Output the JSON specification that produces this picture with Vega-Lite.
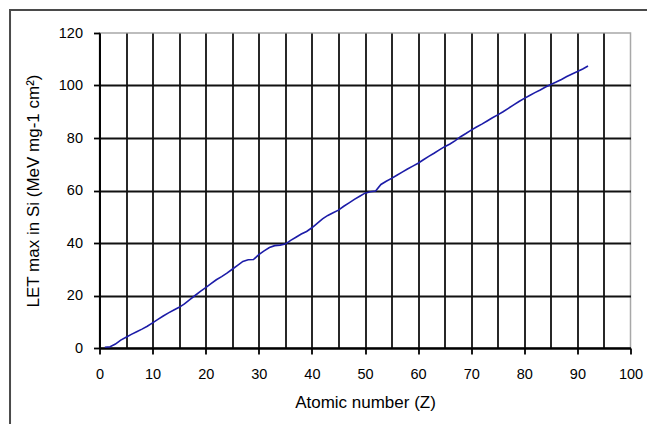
{
  "$schema": "https://vega.github.io/schema/vega-lite/v6.json",
  "autosize": "none",
  "width": 531,
  "height": 315,
  "padding": {"left": 99.5, "top": 33, "right": 16.5, "bottom": 76},
  "background": "#ffffff",
  "config": {
    "font": "Liberation Sans",
    "view": {"stroke": "#a8a8a8", "strokeWidth": 1.5},
    "axis": {
      "grid": true,
      "labelFont": "Liberation Sans",
      "titleFont": "Liberation Sans",
      "labelColor": "#000000",
      "titleColor": "#000000",
      "titleFontWeight": "normal",
      "domainColor": "#000000",
      "domainWidth": 1.8,
      "tickColor": "#000000",
      "tickWidth": 1.8,
      "gridColor": "#111111",
      "gridWidth": 1.8,
      "gridOpacity": 1
    }
  },
  "data": {
    "values": [
      {"z": 1, "let": 0.3}, {"z": 2, "let": 0.5}, {"z": 3, "let": 1.5}, {"z": 4, "let": 3.0},
      {"z": 5, "let": 4.1}, {"z": 6, "let": 5.2}, {"z": 7, "let": 6.2}, {"z": 8, "let": 7.2},
      {"z": 9, "let": 8.3}, {"z": 10, "let": 9.6}, {"z": 11, "let": 10.9}, {"z": 12, "let": 12.2},
      {"z": 13, "let": 13.4}, {"z": 14, "let": 14.5}, {"z": 15, "let": 15.5}, {"z": 16, "let": 16.8},
      {"z": 17, "let": 18.4}, {"z": 18, "let": 20.0}, {"z": 19, "let": 21.6}, {"z": 20, "let": 23.0},
      {"z": 21, "let": 24.5}, {"z": 22, "let": 26.0}, {"z": 23, "let": 27.2}, {"z": 24, "let": 28.5},
      {"z": 25, "let": 30.0}, {"z": 26, "let": 31.5}, {"z": 27, "let": 33.0}, {"z": 28, "let": 33.6},
      {"z": 29, "let": 33.7}, {"z": 30, "let": 35.6}, {"z": 31, "let": 37.0}, {"z": 32, "let": 38.3},
      {"z": 33, "let": 39.0}, {"z": 34, "let": 39.2}, {"z": 35, "let": 39.6}, {"z": 36, "let": 41.0},
      {"z": 37, "let": 42.2}, {"z": 38, "let": 43.4}, {"z": 39, "let": 44.4}, {"z": 40, "let": 45.8},
      {"z": 41, "let": 47.5}, {"z": 42, "let": 49.2}, {"z": 43, "let": 50.5}, {"z": 44, "let": 51.5},
      {"z": 45, "let": 52.5}, {"z": 46, "let": 54.0}, {"z": 47, "let": 55.3}, {"z": 48, "let": 56.6},
      {"z": 49, "let": 57.8}, {"z": 50, "let": 59.0}, {"z": 51, "let": 59.5}, {"z": 52, "let": 59.8},
      {"z": 53, "let": 62.3}, {"z": 54, "let": 63.5}, {"z": 55, "let": 64.6}, {"z": 56, "let": 65.8},
      {"z": 57, "let": 67.0}, {"z": 58, "let": 68.2}, {"z": 59, "let": 69.3}, {"z": 60, "let": 70.4},
      {"z": 61, "let": 71.7}, {"z": 62, "let": 73.0}, {"z": 63, "let": 74.2}, {"z": 64, "let": 75.5},
      {"z": 65, "let": 76.7}, {"z": 66, "let": 77.7}, {"z": 67, "let": 79.0}, {"z": 68, "let": 80.5},
      {"z": 69, "let": 81.7}, {"z": 70, "let": 83.0}, {"z": 71, "let": 84.2}, {"z": 72, "let": 85.3},
      {"z": 73, "let": 86.5}, {"z": 74, "let": 87.7}, {"z": 75, "let": 88.8}, {"z": 76, "let": 90.0},
      {"z": 77, "let": 91.3}, {"z": 78, "let": 92.6}, {"z": 79, "let": 93.9}, {"z": 80, "let": 95.1},
      {"z": 81, "let": 96.2}, {"z": 82, "let": 97.3}, {"z": 83, "let": 98.3}, {"z": 84, "let": 99.4},
      {"z": 85, "let": 100.4}, {"z": 86, "let": 101.3}, {"z": 87, "let": 102.3}, {"z": 88, "let": 103.4},
      {"z": 89, "let": 104.4}, {"z": 90, "let": 105.3}, {"z": 91, "let": 106.3}, {"z": 92, "let": 107.4}
    ]
  },
  "encoding": {
    "x": {
      "field": "z",
      "type": "quantitative",
      "scale": {"domain": [0, 100], "nice": false, "zero": false},
      "axis": {
        "title": "Atomic number (Z)",
        "grid": true,
        "values": [0, 5, 10, 15, 20, 25, 30, 35, 40, 45, 50, 55, 60, 65, 70, 75, 80, 85, 90, 95, 100],
        "labelExpr": "datum.value % 10 === 0 ? datum.label : ''",
        "labelFontSize": 14.5,
        "labelPadding": 13,
        "labelFlush": false,
        "labelOverlap": false,
        "tickSize": 6,
        "tickColor": {"condition": {"test": "datum.value % 10 === 0", "value": "#000000"}, "value": "transparent"},
        "gridColor": {"condition": {"test": "datum.value === 100", "value": "transparent"}, "value": "#111111"},
        "titleFontSize": 17,
        "titlePadding": 14
      }
    },
    "y": {
      "field": "let",
      "type": "quantitative",
      "scale": {"domain": [0, 120], "nice": false, "zero": false},
      "axis": {
        "title": "LET max in Si (MeV mg-1 cm²)",
        "grid": true,
        "values": [0, 20, 40, 60, 80, 100, 120],
        "labelFontSize": 14.5,
        "labelPadding": 11,
        "labelFlush": false,
        "tickSize": 6,
        "gridColor": {"condition": {"test": "datum.value === 120", "value": "transparent"}, "value": "#111111"},
        "titleFontSize": 17,
        "titlePadding": 16
      }
    }
  },
  "layer": [
    {
      "mark": {"type": "line", "color": "#1c1ca8", "strokeWidth": 1.6}
    },
    {
      "data": {"values": [{"x0": -16.85, "x1": 125, "y0": 128.76, "y1": -40}]},
      "mark": {"type": "rect", "filled": false, "stroke": "#4a4a4a", "strokeWidth": 2, "clip": false},
      "encoding": {
        "x": {"field": "x0", "type": "quantitative"},
        "x2": {"field": "x1"},
        "y": {"field": "y0", "type": "quantitative"},
        "y2": {"field": "y1"}
      }
    }
  ]
}
